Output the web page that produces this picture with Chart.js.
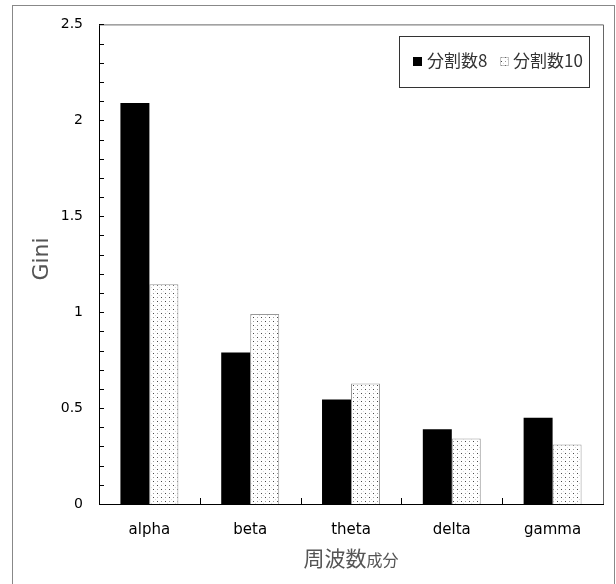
<!DOCTYPE html>
<html>
<head>
<meta charset="utf-8">
<script src="https://cdn.jsdelivr.net/npm/chart.js@4.4.1/dist/chart.umd.min.js"></script>
<style>
  html, body { margin: 0; padding: 0; background: #fff; }
  #wrap { position: relative; width: 616px; height: 584px; }
  #frame { position: absolute; left: 12px; top: 5px; width: 603px; height: 600px;
           border: 1px solid #888; border-bottom: none; box-sizing: border-box; pointer-events: none; }
  canvas { position: absolute; left: 0; top: 0; }
</style>
</head>
<body>
<div id="wrap">
  <canvas id="giniChart" width="616" height="584"></canvas>
  <div id="frame"></div>
</div>
<script>
// ── データ ──────────────────────────────────────────────
const categories = ['alpha', 'beta', 'theta', 'delta', 'gamma'];
const seriesLabels = ['分割数8', '分割数10'];
const split8  = [2.09, 0.79, 0.545, 0.39, 0.45];
const split10 = [1.145, 0.99, 0.628, 0.342, 0.31];
const yMax = 2.5;
const yMajor = 0.5;
const yMinor = 0.1;
const yTitle = 'Gini';
const xTitleBig = '周波数';
const xTitleSmall = '成分';

const TXT = "'DejaVu Sans', sans-serif";
const CJK = "'Noto Sans CJK JP', 'Noto Sans', sans-serif";

// ── ドット模様 ──────────────────────────────────────────
function dotPattern() {
  const c = document.createElement('canvas');
  c.width = 8; c.height = 8;
  const g = c.getContext('2d');
  g.fillStyle = '#fff';
  g.fillRect(0, 0, 8, 8);
  g.fillStyle = '#444';
  g.fillRect(1, 1, 1, 1);
  g.fillRect(5, 5, 1, 1);
  g.fillStyle = '#999';
  g.fillRect(5, 1, 1, 1);
  g.fillRect(1, 5, 1, 1);
  g.fillStyle = '#ddd';
  g.fillRect(3, 3, 1, 1);
  g.fillRect(7, 7, 1, 1);
  return g.createPattern(c, 'repeat');
}
const dots = dotPattern();

// ── 目盛り・枠・凡例・軸タイトル ───────────────────────
const decor = {
  id: 'decor',
  afterDatasetsDraw(chart) {
    const { ctx, chartArea: a, scales: { x, y } } = chart;
    ctx.save();
    // 上・右の枠
    ctx.strokeStyle = '#666';
    ctx.lineWidth = 1;
    ctx.beginPath();
    ctx.moveTo(a.left, a.top + 0.5); ctx.lineTo(a.right + 0.5, a.top + 0.5);
    ctx.lineTo(a.right + 0.5, a.bottom);
    ctx.stroke();

    // y 目盛り（内向き）
    ctx.strokeStyle = '#000';
    ctx.beginPath();
    for (let v = yMinor; v < yMax + 1e-6; v += yMinor) {
      const py = Math.round(y.getPixelForValue(v)) + 0.5;
      ctx.moveTo(a.left, py); ctx.lineTo(a.left + 5, py);
    }
    // x 目盛り（カテゴリ境界、上向き）
    for (let i = 1; i < categories.length; i++) {
      const px = Math.round((x.getPixelForValue(i - 1) + x.getPixelForValue(i)) / 2) + 0.5;
      ctx.moveTo(px, a.bottom); ctx.lineTo(px, a.bottom - 6);
    }
    ctx.stroke();

    // 凡例
    const bx = 399.5, by = 36.5, bw = 190, bh = 51;
    ctx.fillStyle = '#fff';
    ctx.fillRect(bx, by, bw, bh);
    ctx.strokeStyle = '#333';
    ctx.strokeRect(bx, by, bw, bh);
    ctx.font = '17px ' + CJK;
    ctx.textBaseline = 'middle';
    ctx.fillStyle = '#000';
    ctx.fillRect(413, 57, 9, 9);
    ctx.fillStyle = '#333';
    ctx.fillText(seriesLabels[0], 427, 61);
    ctx.fillStyle = dots;
    ctx.fillRect(500, 57, 9, 9);
    ctx.strokeStyle = '#888';
    ctx.setLineDash([1, 1]);
    ctx.strokeRect(500.5, 57.5, 8, 8);
    ctx.setLineDash([]);
    ctx.fillStyle = '#333';
    ctx.fillText(seriesLabels[1], 513, 61);

    // y 軸タイトル
    ctx.fillStyle = '#555';
    ctx.font = '22px ' + TXT;
    ctx.textAlign = 'center';
    ctx.save();
    ctx.translate(42, 259);
    ctx.rotate(-Math.PI / 2);
    ctx.fillText(yTitle, 0, 0);
    ctx.restore();

    // x 軸タイトル（大小 2 サイズ）
    ctx.textAlign = 'left';
    ctx.textBaseline = 'alphabetic';
    ctx.font = '21px ' + CJK;
    const w1 = ctx.measureText(xTitleBig).width;
    ctx.font = '16px ' + CJK;
    const w2 = ctx.measureText(xTitleSmall).width;
    const sx = (a.left + a.right) / 2 - (w1 + w2) / 2;
    ctx.font = '21px ' + CJK;
    ctx.fillText(xTitleBig, sx, 566);
    ctx.font = '16px ' + CJK;
    ctx.fillText(xTitleSmall, sx + w1, 566);
    ctx.restore();
  }
};

new Chart(document.getElementById('giniChart'), {
  type: 'bar',
  data: {
    labels: categories,
    datasets: [
      {
        label: seriesLabels[0],
        data: split8,
        backgroundColor: '#000',
        borderWidth: 0,
        categoryPercentage: 0.575,
        barPercentage: 1.0,
      },
      {
        label: seriesLabels[1],
        data: split10,
        backgroundColor: dots,
        borderColor: '#999',
        borderWidth: 1,
        categoryPercentage: 0.575,
        barPercentage: 1.0,
      }
    ]
  },
  options: {
    responsive: false,
    animation: false,
    layout: { padding: { left: 0, top: 22, right: 13, bottom: 0 } },
    plugins: { legend: { display: false }, tooltip: { enabled: false } },
    scales: {
      x: {
        grid: { display: false, drawTicks: false },
        border: { display: true, color: '#000', width: 1 },
        ticks: { color: '#000', font: { family: TXT, size: 15 }, padding: 17 },
        afterFit: s => { s.height = 80; }
      },
      y: {
        min: 0,
        max: yMax,
        grid: { display: false, drawTicks: false },
        border: { display: true, color: '#000', width: 1 },
        ticks: {
          stepSize: yMinor,
          autoSkip: false,
          color: '#000',
          padding: 16,
          font: { family: TXT, size: 14 },
          callback: v => Math.abs(v / yMajor - Math.round(v / yMajor)) < 1e-6 ? String(+v.toFixed(1)) : ''
        },
        afterFit: s => { s.width = 99; }
      }
    }
  },
  plugins: [decor]
});
</script>
</body>
</html>
